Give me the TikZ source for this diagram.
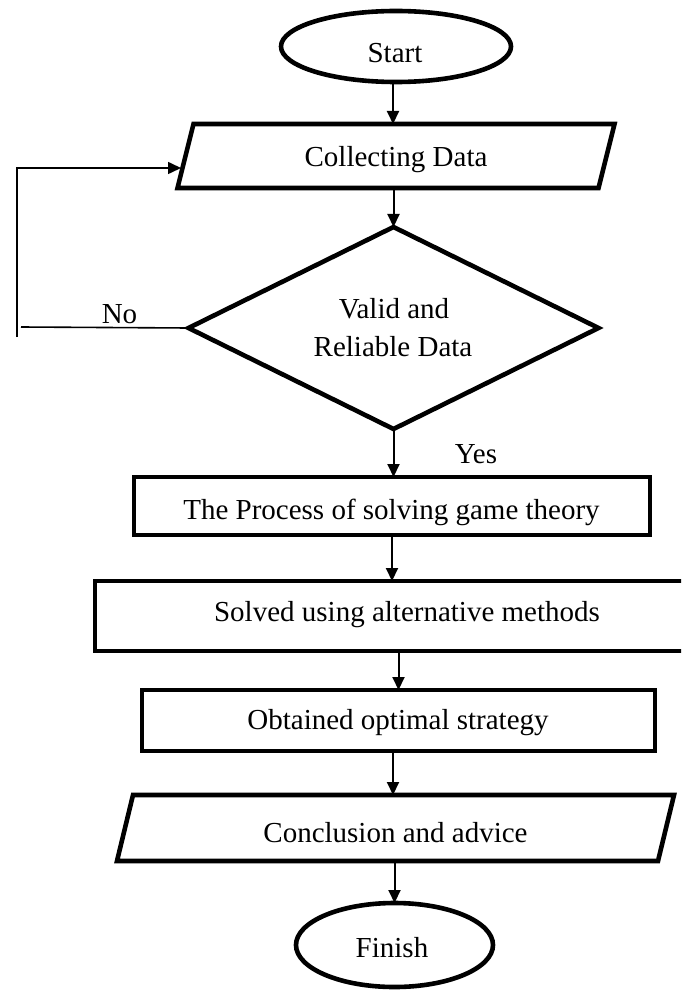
\documentclass[tikz,border=0pt]{standalone}
\usepackage{fontspec}
\setmainfont{Liberation Serif}
\usetikzlibrary{shapes.geometric, arrows.meta}
\begin{document}
\begin{tikzpicture}[x=1pt, y=-1pt,
  shapeline/.style={draw, line width=4.6pt, line join=miter},
  conn/.style={line width=2pt, -{Triangle[length=13pt,width=12pt]}},
  fbline/.style={line width=1.6pt},
  fbarrow/.style={line width=1.6pt, -{Triangle[length=13pt,width=12pt]}},
  lbl/.style={font=\fontsize{29}{35}\selectfont, inner sep=0pt, anchor=base},
  frame/.style={inner sep=0pt, outer sep=0pt},
]
\useasboundingbox (0,0) rectangle (681,992);
\clip (0,0) rectangle (681,992);

% Start
\node[ellipse, shapeline, frame, minimum width=230pt, minimum height=71pt] (start) at (396,46.5) {};
\node[lbl] (tstart) at (395,63) {Start};

% Collecting Data (parallelogram)
\node[frame, minimum width=421pt, minimum height=64pt] (cd) at (396,156) {};
\draw[shapeline] ([xshift=8pt]cd.north west) -- ([xshift=8pt]cd.north east) -- ([xshift=-8pt]cd.south east) -- ([xshift=-8pt]cd.south west) -- cycle;
\node[lbl] (tcd) at (396,167) {Collecting Data};

% Decision
\node[diamond, shapeline, frame, minimum width=410pt, minimum height=202pt] (dia) at (393.5,328) {};
\node[lbl] (tv1) at (394,318) {Valid and};
\node[lbl] (tv2) at (393,356) {Reliable Data};

% Process
\node[rectangle, shapeline, frame, minimum width=516pt, minimum height=58pt] (proc) at (392,506) {};
\node[lbl] (tproc) at (391.5,519) {The Process of solving game theory};

% Solved
\node[rectangle, shapeline, frame, minimum width=626pt, minimum height=70pt] (solv) at (408,616) {};
\node[lbl] (tsolv) at (407,621) {Solved using alternative methods};

% Obtained
\node[rectangle, shapeline, frame, minimum width=513pt, minimum height=61pt] (obt) at (398.5,720.5) {};
\node[lbl] (tobt) at (398,729) {Obtained optimal strategy};

% Conclusion (parallelogram)
\node[frame, minimum width=541pt, minimum height=66pt] (conc) at (395.5,828) {};
\draw[shapeline] ([xshift=8pt]conc.north west) -- ([xshift=8pt]conc.north east) -- ([xshift=-8pt]conc.south east) -- ([xshift=-8pt]conc.south west) -- cycle;
\node[lbl] (tconc) at (395.5,842) {Conclusion and advice};

% Finish
\node[ellipse, shapeline, frame, minimum width=197pt, minimum height=84pt] (fin) at (394.5,945) {};
\node[lbl] (tfin) at (392,957) {Finish};

% Connectors
\draw[conn] ([xshift=-3pt]start.south) -- ([xshift=-3pt]start.south |- cd.north);
\draw[conn] (cd.south -| dia.north) -- (dia.north);
\draw[conn] (dia.south) -- (dia.south |- proc.north);
\draw[conn] (proc.south) -- (proc.south |- solv.north);
\draw[conn] (obt.north |- solv.south) -- (obt.north);
\draw[conn] ([xshift=-2.5pt]conc.north |- obt.south) -- ([xshift=-2.5pt]conc.north);
\draw[conn] (conc.south -| fin.north) -- (fin.north);

% Feedback loop
\coordinate (fbh) at (21,327);
\coordinate (fbb) at (17,337);
\coordinate (cdin) at (181,168);
\draw[fbline] (dia.west) -- (fbh);
\draw[fbarrow] (fbb) |- (cdin);

% Labels
\node[lbl] (tno) at (119.5,323) {No};
\node[lbl] (tyes) at (476,463) {Yes};
\end{tikzpicture}
\end{document}
